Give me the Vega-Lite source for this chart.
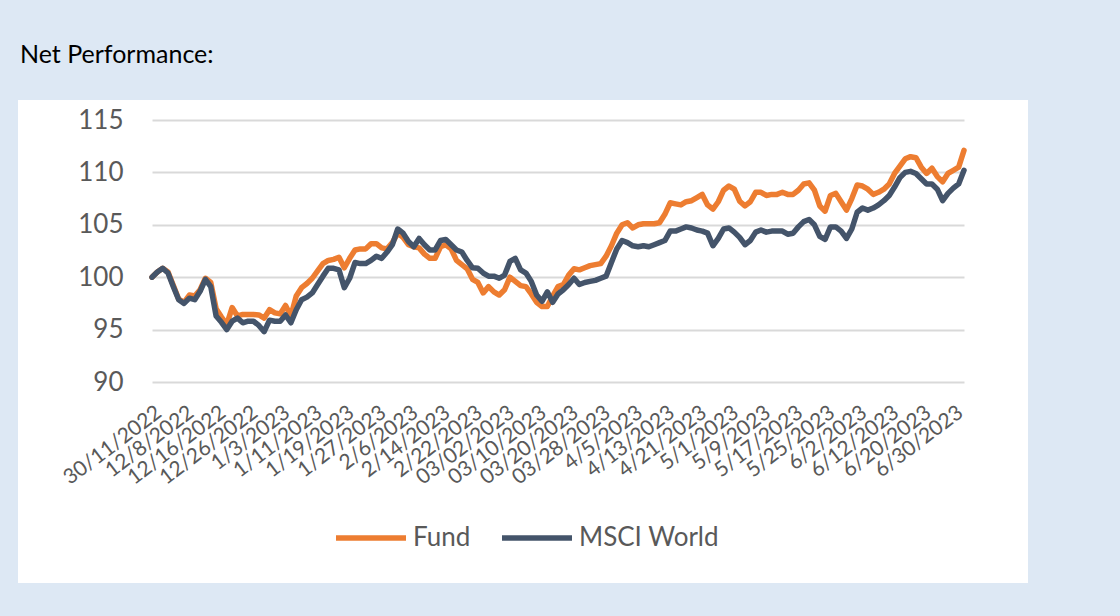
{
  "$schema": "https://vega.github.io/schema/vega-lite/v6.json",
  "width": 1010,
  "height": 483,
  "autosize": {"type": "none"},
  "padding": {"left": 18, "top": 100, "right": 92, "bottom": 33},
  "background": "#dde8f4",
  "title": {"text": "Net Performance:", "anchor": "start", "frame": "group", "offset": 12, "dx": 2, "baseline": "alphabetic", "font": "Lato", "fontSize": 25, "fontWeight": "normal", "color": "#000000"},
  "data": {"values": [
    {"d":"30/11/2022","Fund":100.0,"MSCI World":100.0},
    {"d":"12/1/2022","Fund":100.5,"MSCI World":100.5},
    {"d":"12/2/2022","Fund":100.85,"MSCI World":100.85},
    {"d":"12/5/2022","Fund":100.5,"MSCI World":100.4},
    {"d":"12/6/2022","Fund":99.2,"MSCI World":99.1},
    {"d":"12/7/2022","Fund":97.9,"MSCI World":97.85},
    {"d":"12/8/2022","Fund":97.6,"MSCI World":97.5},
    {"d":"12/9/2022","Fund":98.3,"MSCI World":98.0},
    {"d":"12/12/2022","Fund":98.2,"MSCI World":97.85},
    {"d":"12/13/2022","Fund":98.8,"MSCI World":98.65},
    {"d":"12/14/2022","Fund":99.9,"MSCI World":99.8},
    {"d":"12/15/2022","Fund":99.5,"MSCI World":99.1},
    {"d":"12/16/2022","Fund":97.0,"MSCI World":96.3},
    {"d":"12/19/2022","Fund":96.2,"MSCI World":95.7},
    {"d":"12/20/2022","Fund":95.5,"MSCI World":95.0},
    {"d":"12/21/2022","Fund":97.1,"MSCI World":95.8},
    {"d":"12/22/2022","Fund":96.3,"MSCI World":96.1},
    {"d":"12/23/2022","Fund":96.45,"MSCI World":95.65},
    {"d":"12/26/2022","Fund":96.45,"MSCI World":95.8},
    {"d":"12/27/2022","Fund":96.45,"MSCI World":95.8},
    {"d":"12/28/2022","Fund":96.4,"MSCI World":95.4},
    {"d":"12/29/2022","Fund":96.1,"MSCI World":94.8},
    {"d":"12/30/2022","Fund":96.9,"MSCI World":95.9},
    {"d":"1/2/2023","Fund":96.6,"MSCI World":95.8},
    {"d":"1/3/2023","Fund":96.5,"MSCI World":95.8},
    {"d":"1/4/2023","Fund":97.3,"MSCI World":96.4},
    {"d":"1/5/2023","Fund":96.3,"MSCI World":95.65},
    {"d":"1/6/2023","Fund":98.2,"MSCI World":96.9},
    {"d":"1/9/2023","Fund":99.0,"MSCI World":97.85},
    {"d":"1/10/2023","Fund":99.4,"MSCI World":98.1},
    {"d":"1/11/2023","Fund":99.9,"MSCI World":98.5},
    {"d":"1/12/2023","Fund":100.6,"MSCI World":99.3},
    {"d":"1/13/2023","Fund":101.3,"MSCI World":100.1},
    {"d":"1/16/2023","Fund":101.6,"MSCI World":100.85},
    {"d":"1/17/2023","Fund":101.7,"MSCI World":100.85},
    {"d":"1/18/2023","Fund":101.9,"MSCI World":100.7},
    {"d":"1/19/2023","Fund":100.9,"MSCI World":99.0},
    {"d":"1/20/2023","Fund":101.8,"MSCI World":99.9},
    {"d":"1/23/2023","Fund":102.6,"MSCI World":101.4},
    {"d":"1/24/2023","Fund":102.7,"MSCI World":101.3},
    {"d":"1/25/2023","Fund":102.7,"MSCI World":101.3},
    {"d":"1/26/2023","Fund":103.2,"MSCI World":101.6},
    {"d":"1/27/2023","Fund":103.2,"MSCI World":102.0},
    {"d":"1/30/2023","Fund":102.8,"MSCI World":101.8},
    {"d":"1/31/2023","Fund":102.7,"MSCI World":102.4},
    {"d":"2/1/2023","Fund":103.3,"MSCI World":103.1},
    {"d":"2/2/2023","Fund":104.2,"MSCI World":104.6},
    {"d":"2/3/2023","Fund":103.8,"MSCI World":104.2},
    {"d":"2/6/2023","Fund":103.1,"MSCI World":103.4},
    {"d":"2/7/2023","Fund":102.9,"MSCI World":102.9},
    {"d":"2/8/2023","Fund":102.8,"MSCI World":103.7},
    {"d":"2/9/2023","Fund":102.2,"MSCI World":103.1},
    {"d":"2/10/2023","Fund":101.8,"MSCI World":102.6},
    {"d":"2/13/2023","Fund":101.8,"MSCI World":102.6},
    {"d":"2/14/2023","Fund":102.9,"MSCI World":103.5},
    {"d":"2/15/2023","Fund":103.1,"MSCI World":103.6},
    {"d":"2/16/2023","Fund":102.7,"MSCI World":103.1},
    {"d":"2/17/2023","Fund":101.6,"MSCI World":102.6},
    {"d":"2/20/2023","Fund":101.2,"MSCI World":102.4},
    {"d":"2/21/2023","Fund":100.8,"MSCI World":101.6},
    {"d":"2/22/2023","Fund":99.8,"MSCI World":100.9},
    {"d":"2/23/2023","Fund":99.5,"MSCI World":100.85},
    {"d":"2/24/2023","Fund":98.5,"MSCI World":100.4},
    {"d":"2/27/2023","Fund":99.1,"MSCI World":100.1},
    {"d":"2/28/2023","Fund":98.6,"MSCI World":100.1},
    {"d":"03/01/2023","Fund":98.3,"MSCI World":99.9},
    {"d":"03/02/2023","Fund":98.8,"MSCI World":100.2},
    {"d":"03/03/2023","Fund":100.0,"MSCI World":101.5},
    {"d":"03/06/2023","Fund":99.6,"MSCI World":101.8},
    {"d":"03/07/2023","Fund":99.2,"MSCI World":100.7},
    {"d":"03/08/2023","Fund":99.1,"MSCI World":100.4},
    {"d":"03/09/2023","Fund":98.4,"MSCI World":99.6},
    {"d":"03/10/2023","Fund":97.6,"MSCI World":98.3},
    {"d":"03/13/2023","Fund":97.2,"MSCI World":97.7},
    {"d":"03/14/2023","Fund":97.2,"MSCI World":98.6},
    {"d":"03/15/2023","Fund":98.2,"MSCI World":97.6},
    {"d":"03/16/2023","Fund":99.1,"MSCI World":98.4},
    {"d":"03/17/2023","Fund":99.3,"MSCI World":98.8},
    {"d":"03/20/2023","Fund":100.2,"MSCI World":99.3},
    {"d":"03/21/2023","Fund":100.8,"MSCI World":99.9},
    {"d":"03/22/2023","Fund":100.7,"MSCI World":99.3},
    {"d":"03/23/2023","Fund":100.9,"MSCI World":99.5},
    {"d":"03/24/2023","Fund":101.1,"MSCI World":99.6},
    {"d":"03/27/2023","Fund":101.2,"MSCI World":99.7},
    {"d":"03/28/2023","Fund":101.3,"MSCI World":99.9},
    {"d":"03/29/2023","Fund":102.0,"MSCI World":100.1},
    {"d":"03/30/2023","Fund":103.0,"MSCI World":101.4},
    {"d":"03/31/2023","Fund":104.2,"MSCI World":102.7},
    {"d":"4/3/2023","Fund":105.0,"MSCI World":103.5},
    {"d":"4/4/2023","Fund":105.2,"MSCI World":103.3},
    {"d":"4/5/2023","Fund":104.7,"MSCI World":103.0},
    {"d":"4/6/2023","Fund":105.0,"MSCI World":102.9},
    {"d":"4/7/2023","Fund":105.1,"MSCI World":103.0},
    {"d":"4/10/2023","Fund":105.1,"MSCI World":102.9},
    {"d":"4/11/2023","Fund":105.1,"MSCI World":103.1},
    {"d":"4/12/2023","Fund":105.2,"MSCI World":103.3},
    {"d":"4/13/2023","Fund":106.0,"MSCI World":103.5},
    {"d":"4/14/2023","Fund":107.1,"MSCI World":104.4},
    {"d":"4/17/2023","Fund":107.0,"MSCI World":104.4},
    {"d":"4/18/2023","Fund":106.9,"MSCI World":104.6},
    {"d":"4/19/2023","Fund":107.2,"MSCI World":104.8},
    {"d":"4/20/2023","Fund":107.3,"MSCI World":104.7},
    {"d":"4/21/2023","Fund":107.6,"MSCI World":104.5},
    {"d":"4/24/2023","Fund":107.9,"MSCI World":104.4},
    {"d":"4/25/2023","Fund":106.9,"MSCI World":104.2},
    {"d":"4/26/2023","Fund":106.5,"MSCI World":103.0},
    {"d":"4/27/2023","Fund":107.2,"MSCI World":103.7},
    {"d":"4/28/2023","Fund":108.3,"MSCI World":104.6},
    {"d":"5/1/2023","Fund":108.7,"MSCI World":104.7},
    {"d":"5/2/2023","Fund":108.4,"MSCI World":104.3},
    {"d":"5/3/2023","Fund":107.25,"MSCI World":103.8},
    {"d":"5/4/2023","Fund":106.8,"MSCI World":103.1},
    {"d":"5/5/2023","Fund":107.2,"MSCI World":103.5},
    {"d":"5/8/2023","Fund":108.1,"MSCI World":104.3},
    {"d":"5/9/2023","Fund":108.1,"MSCI World":104.5},
    {"d":"5/10/2023","Fund":107.8,"MSCI World":104.3},
    {"d":"5/11/2023","Fund":107.9,"MSCI World":104.4},
    {"d":"5/12/2023","Fund":107.9,"MSCI World":104.4},
    {"d":"5/15/2023","Fund":108.1,"MSCI World":104.4},
    {"d":"5/16/2023","Fund":107.9,"MSCI World":104.1},
    {"d":"5/17/2023","Fund":107.9,"MSCI World":104.2},
    {"d":"5/18/2023","Fund":108.3,"MSCI World":104.8},
    {"d":"5/19/2023","Fund":108.9,"MSCI World":105.3},
    {"d":"5/22/2023","Fund":109.0,"MSCI World":105.5},
    {"d":"5/23/2023","Fund":108.3,"MSCI World":105.0},
    {"d":"5/24/2023","Fund":106.8,"MSCI World":103.9},
    {"d":"5/25/2023","Fund":106.3,"MSCI World":103.6},
    {"d":"5/26/2023","Fund":107.8,"MSCI World":104.8},
    {"d":"5/29/2023","Fund":108.0,"MSCI World":104.8},
    {"d":"5/30/2023","Fund":107.2,"MSCI World":104.4},
    {"d":"5/31/2023","Fund":106.4,"MSCI World":103.7},
    {"d":"6/1/2023","Fund":107.5,"MSCI World":104.6},
    {"d":"6/2/2023","Fund":108.8,"MSCI World":106.2},
    {"d":"6/5/2023","Fund":108.7,"MSCI World":106.6},
    {"d":"6/6/2023","Fund":108.4,"MSCI World":106.4},
    {"d":"6/7/2023","Fund":107.9,"MSCI World":106.6},
    {"d":"6/8/2023","Fund":108.1,"MSCI World":106.9},
    {"d":"6/9/2023","Fund":108.4,"MSCI World":107.3},
    {"d":"6/12/2023","Fund":108.9,"MSCI World":107.8},
    {"d":"6/13/2023","Fund":109.9,"MSCI World":108.6},
    {"d":"6/14/2023","Fund":110.6,"MSCI World":109.5},
    {"d":"6/15/2023","Fund":111.3,"MSCI World":110.0},
    {"d":"6/16/2023","Fund":111.5,"MSCI World":110.1},
    {"d":"6/19/2023","Fund":111.4,"MSCI World":109.9},
    {"d":"6/20/2023","Fund":110.5,"MSCI World":109.4},
    {"d":"6/21/2023","Fund":109.9,"MSCI World":108.9},
    {"d":"6/22/2023","Fund":110.4,"MSCI World":108.9},
    {"d":"6/26/2023","Fund":109.6,"MSCI World":108.4},
    {"d":"6/27/2023","Fund":109.1,"MSCI World":107.3},
    {"d":"6/28/2023","Fund":109.9,"MSCI World":108.0},
    {"d":"6/30/2023","Fund":110.2,"MSCI World":108.5},
    {"d":"7/3/2023","Fund":110.5,"MSCI World":108.9},
    {"d":"7/4/2023","Fund":112.1,"MSCI World":110.2}
  ]},
  "transform": [{"fold": ["Fund", "MSCI World"], "as": ["series", "value"]}],
  "mark": {"type": "line", "strokeWidth": 5.5, "strokeCap": "round", "strokeJoin": "round"},
  "encoding": {
    "x": {
      "field": "d", "type": "ordinal", "sort": null,
      "scale": {"type": "point", "range": [134, 946], "padding": 0},
      "axis": {
        "title": null,
        "values": ["30/11/2022","12/8/2022","12/16/2022","12/26/2022","1/3/2023","1/11/2023","1/19/2023","1/27/2023","2/6/2023","2/14/2023","2/22/2023","03/02/2023","03/10/2023","03/20/2023","03/28/2023","4/5/2023","4/13/2023","4/21/2023","5/1/2023","5/9/2023","5/17/2023","5/25/2023","6/2/2023","6/12/2023","6/20/2023","6/30/2023"],
        "offset": -201, "domain": false, "ticks": false, "tickSize": 0, "grid": false,
        "labelAngle": -37, "labelAlign": "right", "labelBaseline": "middle",
        "labelPadding": 28, "labelOffset": 7, "labelOverlap": false,
        "labelFont": "Lato", "labelFontSize": 21, "labelColor": "#595959"
      }
    },
    "y": {
      "field": "value", "type": "quantitative",
      "scale": {"domain": [90, 115], "range": [282, 20], "zero": false, "nice": false},
      "axis": {
        "title": null, "values": [90, 95, 100, 105, 110, 115],
        "offset": -105, "domain": false, "ticks": false, "tickSize": 0, "labelPadding": 0,
        "grid": true, "gridColor": "#d9d9d9", "gridWidth": 2,
        "labelFont": "Lato", "labelFontSize": 26, "labelColor": "#595959"
      }
    },
    "color": {
      "field": "series", "type": "nominal",
      "scale": {"domain": ["Fund", "MSCI World"], "range": ["#ED7D31", "#44546A"]},
      "legend": {
        "title": null, "orient": "none", "legendX": 315, "legendY": 400,
        "direction": "horizontal", "columns": 2,
        "symbolType": "stroke", "symbolSize": 4900, "symbolStrokeWidth": 5.5,
        "labelFont": "Lato", "labelFontSize": 26, "labelColor": "#595959",
        "labelOffset": 4, "columnPadding": 20
      }
    }
  },
  "config": {"view": {"fill": "#ffffff", "stroke": null}}
}
